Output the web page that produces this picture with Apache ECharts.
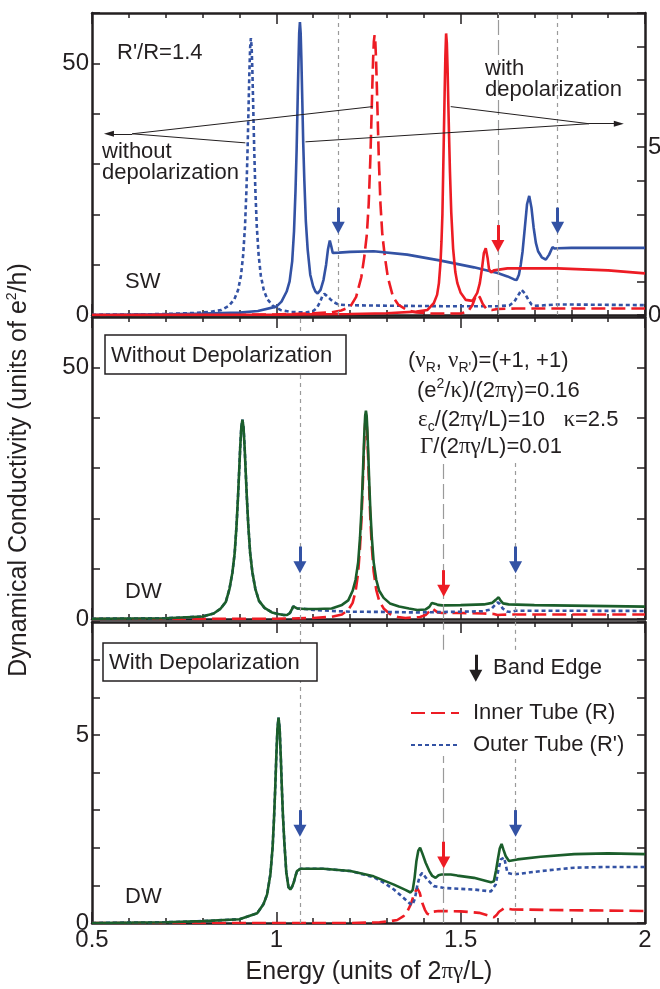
<!DOCTYPE html>
<html>
<head>
<meta charset="utf-8">
<script src="https://cdn.jsdelivr.net/npm/echarts@6/dist/echarts.min.js"></script>
<style>
  html, body { margin: 0; padding: 0; background: #ffffff; }
  #chart { width: 660px; height: 989px; }
</style>
</head>
<body>
<div id="chart"></div>
<script>
// ---------- data: energy in units of 2πγ/L, conductivity in units of e²/h ----------

// Single wall (SW), R'/R = 1.4
const swOuterNoDepol = [[0.5,0.05],[0.6,0.1],[0.7,0.2],[0.78,0.4],[0.82,0.6],[0.851,1.0],[0.871,1.8],[0.886,3.1],[0.896,4.9],[0.904,7.8],[0.91,11.9],[0.915,17.6],[0.919,25],[0.922,32.9],[0.925,42.4],[0.927,48.6],[0.929,53.2],[0.931,55],[0.933,53.2],[0.935,48.6],[0.937,42.4],[0.94,32.9],[0.943,25],[0.947,17.6],[0.952,11.9],[0.958,7.8],[0.966,4.9],[0.976,3.1],[0.991,1.8],[1.011,1.0],[1.04,0.6],[1.08,0.5],[1.1,0.8],[1.11,1.4],[1.118,2.5],[1.125,3.8],[1.13,4.2],[1.137,3.8],[1.147,3.1],[1.157,2.5],[1.168,2.1],[1.19,1.95],[1.3,1.85],[1.45,1.75],[1.6,1.75],[1.632,1.9],[1.645,2.6],[1.656,3.9],[1.665,5.0],[1.674,4.3],[1.683,3.1],[1.692,2.1],[1.7,1.8],[1.72,1.9],[1.76,2.1],[1.85,2.05],[2.0,1.95]];
const swInnerNoDepol = [[0.5,0],[0.9,0.05],[1.0,0.1],[1.1,0.35],[1.15,0.55],[1.176,0.9],[1.2,1.6],[1.2165,3.6],[1.2305,7.5],[1.2385,11.5],[1.2455,16],[1.2505,22],[1.255,31],[1.2575,37.6],[1.2605,45.8],[1.2625,50.8],[1.2645,54.3],[1.2665,55.6],[1.2685,54.3],[1.2705,50.8],[1.2725,45.8],[1.2755,37.6],[1.278,31],[1.2825,22],[1.2875,16],[1.2945,11.5],[1.3025,7.5],[1.3165,3.6],[1.3315,2.0],[1.3565,0.9],[1.38,0.5],[1.42,0.3],[1.5,0.3],[1.52,0.7],[1.532,2.0],[1.54,3.6],[1.546,4.1],[1.552,3.5],[1.56,2.2],[1.57,1.2],[1.585,1.0],[1.6,1.2],[1.65,1.3],[1.8,1.3],[2.0,1.3]];
const swOuterDepol = [[0.5,0],[0.7,0.02],[0.8,0.04],[0.9,0.07],[0.95,0.12],[1.0,0.25],[1.014,0.4],[1.028,0.7],[1.036,1.0],[1.043,1.6],[1.048,2.5],[1.052,3.7],[1.055,4.9],[1.058,6.5],[1.06,7.5],[1.062,8.4],[1.064,8.73],[1.066,8.4],[1.068,7.6],[1.07,6.6],[1.073,5.1],[1.076,4.0],[1.08,2.8],[1.085,1.95],[1.092,1.2],[1.1,0.85],[1.106,0.7],[1.112,0.64],[1.12,0.75],[1.128,1.05],[1.135,1.5],[1.14,1.95],[1.145,2.22],[1.149,2.05],[1.153,1.85],[1.158,1.8],[1.17,1.86],[1.2,1.88],[1.264,1.9],[1.355,1.8],[1.446,1.62],[1.536,1.42],[1.6,1.25],[1.627,1.15],[1.645,1.06],[1.652,1.04],[1.658,1.2],[1.663,1.5],[1.668,1.9],[1.674,2.6],[1.68,3.3],[1.686,3.55],[1.692,3.2],[1.698,2.6],[1.704,2.15],[1.71,1.9],[1.72,1.72],[1.731,1.65],[1.74,1.8],[1.749,2.02],[1.755,1.98],[1.763,1.99],[1.8,2.0],[1.9,2.0],[2.0,2.0]];
const swInnerDepol = [[0.5,0],[1.0,0.01],[1.2,0.03],[1.3,0.05],[1.38,0.1],[1.41,0.15],[1.427,0.35],[1.436,0.6],[1.441,0.95],[1.4455,1.6],[1.448,2.2],[1.4505,3.0],[1.4525,4.2],[1.4545,5.4],[1.4565,6.6],[1.4585,7.7],[1.4605,8.39],[1.4625,8.1],[1.4645,7.34],[1.4665,6.3],[1.4685,5.35],[1.471,4.25],[1.4745,3.05],[1.4795,1.98],[1.4855,1.28],[1.491,0.95],[1.5,0.66],[1.514,0.45],[1.532,0.42],[1.545,0.66],[1.552,0.95],[1.558,1.4],[1.563,1.85],[1.568,1.99],[1.573,1.7],[1.577,1.36],[1.583,1.27],[1.59,1.33],[1.595,1.36],[1.627,1.39],[1.763,1.39],[1.9,1.33],[2.0,1.24]];

// Double wall (DW), without depolarization
const dwNoDepolTotal = [[0.5,0.05],[0.7,0.15],[0.8,0.5],[0.83,1.1],[0.848,2.0],[0.863,3.4],[0.873,6.0],[0.881,9.3],[0.887,13.1],[0.892,18.5],[0.896,24.2],[0.899,29.1],[0.902,34.1],[0.905,38.1],[0.908,39.6],[0.911,38.1],[0.914,34.1],[0.917,29.1],[0.92,24.2],[0.924,18.5],[0.929,13.1],[0.935,9.3],[0.943,6.0],[0.953,3.6],[0.968,2.2],[0.988,1.3],[1.005,1.0],[1.02,0.8],[1.029,0.8],[1.037,1.2],[1.042,1.9],[1.046,2.5],[1.05,2.3],[1.056,2.1],[1.08,2.0],[1.11,2.0],[1.15,2.1],[1.178,2.8],[1.195,3.7],[1.207,5.6],[1.215,7.8],[1.222,11.3],[1.227,16.2],[1.231,21.7],[1.234,27.2],[1.237,33.5],[1.239,37.5],[1.241,40.4],[1.243,41.4],[1.245,40.4],[1.247,37.5],[1.249,33.5],[1.252,27.2],[1.255,21.7],[1.259,16.2],[1.264,11.3],[1.271,7.8],[1.279,5.6],[1.291,4.2],[1.308,3.1],[1.333,2.5],[1.36,2.1],[1.382,1.8],[1.405,1.9],[1.415,2.4],[1.422,3.2],[1.427,3.5],[1.432,3.0],[1.438,2.8],[1.45,2.7],[1.5,2.75],[1.563,2.9],[1.585,3.2],[1.595,3.8],[1.603,4.3],[1.609,3.6],[1.615,3.1],[1.63,2.9],[1.7,2.75],[1.8,2.65],[2.0,2.45]];
const dwNoDepolInner = [[0.5,0],[0.9,0.02],[1.0,0.05],[1.1,0.2],[1.15,0.45],[1.178,0.9],[1.195,1.8],[1.207,3.2],[1.215,5.5],[1.222,9.2],[1.227,14.3],[1.231,19.9],[1.234,25.6],[1.237,32],[1.239,36],[1.241,38.9],[1.243,39.9],[1.245,38.9],[1.247,36],[1.249,32],[1.252,25.6],[1.255,19.9],[1.259,14.3],[1.264,9.4],[1.271,5.8],[1.279,3.6],[1.291,2.1],[1.308,1.0],[1.33,0.4],[1.35,0.2],[1.39,0.4],[1.405,0.8],[1.415,1.5],[1.423,2.1],[1.43,1.7],[1.438,1.3],[1.45,1.2],[1.5,1.2],[1.56,1.1],[1.59,1.0],[1.6,0.8],[1.61,0.85],[1.65,0.9],[1.8,0.9],[2.0,0.9]];
const dwNoDepolOuter = [[0.5,0.05],[0.7,0.15],[0.8,0.5],[0.83,1.1],[0.848,2.0],[0.863,3.4],[0.873,6.0],[0.881,9.3],[0.887,13.1],[0.892,18.5],[0.896,24.2],[0.899,29.1],[0.902,34.1],[0.905,38.1],[0.908,39.6],[0.911,38.1],[0.914,34.1],[0.917,29.1],[0.92,24.2],[0.924,18.5],[0.929,13.1],[0.935,9.3],[0.943,6.0],[0.953,3.6],[0.968,2.2],[0.988,1.3],[1.005,1.0],[1.02,0.8],[1.029,0.8],[1.037,1.2],[1.042,1.9],[1.046,2.5],[1.05,2.3],[1.056,2.1],[1.08,2.0],[1.101,1.8],[1.15,1.6],[1.2,1.45],[1.3,1.4],[1.38,1.3],[1.42,1.35],[1.5,1.45],[1.56,1.55],[1.582,1.9],[1.592,2.7],[1.6,3.3],[1.606,3.0],[1.614,2.1],[1.625,1.5],[1.636,1.4],[1.65,1.65],[1.7,1.65],[2.0,1.6]];

// Double wall (DW), with depolarization
const dwDepolTotal = [[0.5,0],[0.7,0.02],[0.8,0.05],[0.9,0.1],[0.948,0.26],[0.965,0.5],[0.975,0.76],[0.984,1.3],[0.99,2.03],[0.994,2.84],[0.997,3.59],[1.0,4.44],[1.003,5.17],[1.006,5.46],[1.009,5.17],[1.012,4.44],[1.015,3.59],[1.018,2.84],[1.022,2.1],[1.027,1.35],[1.033,0.95],[1.038,0.89],[1.043,0.97],[1.047,1.07],[1.052,1.25],[1.056,1.38],[1.065,1.44],[1.128,1.44],[1.201,1.38],[1.264,1.24],[1.319,1.02],[1.35,0.88],[1.364,0.81],[1.37,0.88],[1.375,1.2],[1.38,1.65],[1.385,1.92],[1.39,2.0],[1.396,1.85],[1.405,1.6],[1.415,1.38],[1.423,1.25],[1.432,1.2],[1.44,1.27],[1.448,1.29],[1.473,1.29],[1.491,1.26],[1.536,1.2],[1.582,1.08],[1.59,1.11],[1.596,1.4],[1.601,1.7],[1.606,1.98],[1.611,2.1],[1.616,1.95],[1.622,1.78],[1.631,1.65],[1.654,1.69],[1.717,1.76],[1.808,1.83],[1.899,1.85],[2.0,1.83]];
const dwDepolInner = [[0.5,0],[1.2,0.0],[1.28,0.02],[1.31,0.05],[1.328,0.08],[1.345,0.18],[1.355,0.3],[1.365,0.5],[1.373,0.75],[1.382,0.93],[1.389,0.8],[1.396,0.53],[1.403,0.35],[1.409,0.25],[1.415,0.22],[1.425,0.3],[1.44,0.32],[1.5,0.31],[1.55,0.27],[1.575,0.2],[1.59,0.15],[1.598,0.22],[1.604,0.3],[1.618,0.39],[1.64,0.36],[1.8,0.34],[2.0,0.32]];
const dwDepolOuter = [[0.5,0],[0.7,0.02],[0.8,0.05],[0.9,0.1],[0.948,0.26],[0.965,0.5],[0.975,0.76],[0.984,1.3],[0.99,2.03],[0.994,2.84],[0.997,3.59],[1.0,4.44],[1.003,5.17],[1.006,5.46],[1.009,5.17],[1.012,4.44],[1.015,3.59],[1.018,2.84],[1.022,2.1],[1.027,1.35],[1.033,0.95],[1.038,0.89],[1.043,0.97],[1.047,1.07],[1.052,1.25],[1.056,1.38],[1.065,1.44],[1.128,1.44],[1.201,1.38],[1.24,1.28],[1.264,1.22],[1.292,1.07],[1.319,0.89],[1.346,0.66],[1.362,0.52],[1.369,0.48],[1.376,0.65],[1.382,0.98],[1.389,1.25],[1.396,1.33],[1.409,1.16],[1.427,0.98],[1.455,0.93],[1.536,0.89],[1.582,0.84],[1.595,1.02],[1.602,1.4],[1.609,1.69],[1.618,1.74],[1.627,1.33],[1.644,1.29],[1.717,1.38],[1.808,1.47],[1.899,1.49],[2.0,1.49]];

// band edges (energy) and which tube they belong to
const swBandEdges = [{ energy: 1.168, tube: 'outer' }, { energy: 1.601, tube: 'inner' }, { energy: 1.763, tube: 'outer' }];
const dwBandEdges = [{ energy: 1.064, tube: 'outer' }, { energy: 1.454, tube: 'inner' }, { energy: 1.649, tube: 'outer' }];

// tick labels
const energyTickLabels = [0.5, 1, 1.5, 2];
const largeScaleLabels = [0, 50];
const smallScaleLabels = [0, 5];

// ---------- styling ----------
const INK = '#231f20';
const BLUE = '#3352a4';
const RED = '#ed1c24';
const GREEN = '#1b5e2b';
const GUIDE = '#9a9a9a';
const FONT = "'Liberation Sans', Arial, Helvetica, sans-serif";
const SERIF = "'Liberation Serif', 'Times New Roman', serif";
const LW = 2.6;
const DASHED = [14, 6];
const DOTTED = [4, 3];
const SHORT_GUIDE = [4, 4];
const LONG_GUIDE = [15, 5];

const tubeGuide = t => (t === 'inner' ? LONG_GUIDE : SHORT_GUIDE);

const grids = [
  { left: 92, right: 15, top: 13, height: 302, outerBoundsMode: 'none' },
  { left: 92, right: 15, top: 317, height: 302, outerBoundsMode: 'none' },
  { left: 92, right: 15, top: 622, height: 301, outerBoundsMode: 'none' }
];

function labelFilter(list) {
  return v => (list.some(l => Math.abs(l - v) < 1e-9) ? String(v) : '');
}

function xAxisFor(gi, position, showLabels) {
  return {
    type: 'value', gridIndex: gi, position, min: 0.5, max: 2, interval: 0.5,
    axisLine: { show: true, onZero: false, lineStyle: { color: INK, width: 2.5 } },
    axisTick: { show: true, inside: true, length: 11, lineStyle: { color: INK, width: 1.5 } },
    minorTick: { show: true, splitNumber: 5, length: 5, lineStyle: { color: INK, width: 1.5 } },
    splitLine: { show: false }, minorSplitLine: { show: false },
    axisLabel: {
      show: showLabels, margin: 5, color: INK, fontSize: 24, fontFamily: FONT,
      formatter: labelFilter(energyTickLabels)
    }
  };
}

function yAxisFor(gi, position, max, interval, labels, showLabels) {
  return {
    type: 'value', gridIndex: gi, position, min: 0, max, interval,
    axisLine: { show: true, onZero: false, lineStyle: { color: INK, width: 2.5 } },
    axisTick: { show: true, inside: true, length: 8, lineStyle: { color: INK, width: 1.5 } },
    splitLine: { show: false },
    axisLabel: {
      show: showLabels, margin: 3, color: INK, fontSize: 24, fontFamily: FONT,
      formatter: labelFilter(labels)
    }
  };
}

const xAxes = [
  xAxisFor(0, 'bottom', false), xAxisFor(0, 'top', false),
  xAxisFor(1, 'bottom', false), xAxisFor(1, 'top', false),
  xAxisFor(2, 'bottom', true), xAxisFor(2, 'top', false)
];
const yAxes = [
  yAxisFor(0, 'left', 60, 10, largeScaleLabels, true),
  yAxisFor(0, 'right', 9, 1, smallScaleLabels, true),
  yAxisFor(1, 'left', 60, 10, largeScaleLabels, true),
  yAxisFor(1, 'right', 60, 10, largeScaleLabels, false),
  yAxisFor(2, 'left', 8, 1, smallScaleLabels, true),
  yAxisFor(2, 'right', 8, 1, smallScaleLabels, false)
];

// ---------- annotation helpers ----------
function guide(e, y0, y1, dash) {
  return [
    { coord: [e, y0], symbol: 'none', lineStyle: { color: GUIDE, width: 1.2, type: dash } },
    { coord: [e, y1], symbol: 'none', lineStyle: { color: GUIDE, width: 1.2, type: dash } }
  ];
}
function downArrow(e, yTop, yEnd, color) {
  return [
    { coord: [e, yTop], symbol: 'none', lineStyle: { color, width: 3, type: 'solid' } },
    { coord: [e, yEnd], symbol: 'triangle', symbolSize: [13, 12], itemStyle: { color }, lineStyle: { color, width: 3, type: 'solid' } }
  ];
}
function pointer(from, to, head) {
  return [
    { coord: from, symbol: 'none', lineStyle: { color: INK, width: 1, type: 'solid' } },
    { coord: to, symbol: head ? 'triangle' : 'none', symbolSize: [6, 10], itemStyle: { color: INK }, lineStyle: { color: INK, width: 1, type: 'solid' } }
  ];
}
function markLines(items) {
  return { silent: true, animation: false, label: { show: false }, emphasis: { disabled: true }, symbol: 'none', data: items };
}

// guide lines and band-edge arrows
const swGuides = swBandEdges.map(b => guide(b.energy, 0, 60, tubeGuide(b.tube)));
const swArrows = swBandEdges.map(b => b.tube === 'inner'
  ? downArrow(b.energy, 2.68, 2.06, RED)
  : downArrow(b.energy, 3.2, 2.6, BLUE));

const dwNoDepolGuides = dwBandEdges.map(b => b.tube === 'outer' && b.energy < 1.2
  ? guide(b.energy, 0, 60, tubeGuide(b.tube))
  : guide(b.energy, 0, 31.6, tubeGuide(b.tube)));
const dwNoDepolArrows = dwBandEdges.map(b => b.tube === 'inner'
  ? downArrow(b.energy, 9.7, 5.6, RED)
  : downArrow(b.energy, 14.4, 10.3, BLUE));

const dwDepolGuides = [];
dwBandEdges.forEach(b => {
  if (b.energy < 1.2) {
    dwDepolGuides.push(guide(b.energy, 0, 8, tubeGuide(b.tube)));
  } else {
    dwDepolGuides.push(guide(b.energy, 0, 4.44, tubeGuide(b.tube)));
    dwDepolGuides.push(guide(b.energy, 7.26, 8, tubeGuide(b.tube)));
  }
});
const dwDepolArrows = dwBandEdges.map(b => b.tube === 'inner'
  ? downArrow(b.energy, 2.16, 1.61, RED)
  : downArrow(b.energy, 3.0, 2.45, BLUE));
// black "Band Edge" key arrow
dwDepolArrows.push(downArrow(1.541, 7.13, 6.57, INK));

// pointers from the labels to the peaks (top panel, left-axis coordinates)
const swPointers = [
  pointer([0.609, 36.0], [0.546, 36.0], true),
  pointer([0.609, 36.0], [1.261, 41.4], false),
  pointer([0.609, 36.0], [0.916, 34.2], false),
  pointer([1.848, 38.0], [1.929, 38.0], true),
  pointer([1.848, 38.0], [1.473, 41.4], false),
  pointer([1.848, 38.0], [1.079, 34.4], false)
];

// ---------- series ----------
function curve(name, data, xi, yi, color, dash, extra) {
  return Object.assign({
    name, type: 'line', data, xAxisIndex: xi, yAxisIndex: yi,
    symbol: 'none', showSymbol: false, smooth: false, animation: false, silent: true,
    lineStyle: { color, width: LW, type: dash },
    itemStyle: { color }
  }, extra || {});
}

const series = [
  // SW panel
  curve('SW outer, without depolarization', swOuterNoDepol, 0, 0, BLUE, DOTTED, { markLine: markLines(swGuides) }),
  curve('SW inner, without depolarization', swInnerNoDepol, 0, 0, RED, DASHED, { markLine: markLines(swPointers) }),
  curve('SW outer, with depolarization', swOuterDepol, 0, 1, BLUE, 'solid', { markLine: markLines(swArrows) }),
  curve('SW inner, with depolarization', swInnerDepol, 0, 1, RED, 'solid'),
  // DW without depolarization
  curve('DW inner, without depolarization', dwNoDepolInner, 2, 2, RED, DASHED, { markLine: markLines(dwNoDepolGuides.concat(dwNoDepolArrows)) }),
  curve('DW outer, without depolarization', dwNoDepolOuter, 2, 2, BLUE, DOTTED),
  curve('DW total, without depolarization', dwNoDepolTotal, 2, 2, GREEN, 'solid'),
  // DW with depolarization
  curve('Inner Tube (R)', dwDepolInner, 4, 4, RED, DASHED, { markLine: markLines(dwDepolGuides.concat(dwDepolArrows)) }),
  curve("Outer Tube (R')", dwDepolOuter, 4, 4, BLUE, DOTTED),
  curve('DW total, with depolarization', dwDepolTotal, 4, 4, GREEN, 'solid')
];

// ---------- text ----------
const rich = {
  g: { fontFamily: SERIF, fontSize: 23, lineHeight: 28, fill: INK },
  sub: { fontFamily: FONT, fontSize: 14, verticalAlign: 'bottom', fill: INK },
  sup: { fontFamily: FONT, fontSize: 14, verticalAlign: 'top', fill: INK }
};
function label(x, y, text, opts) {
  return Object.assign({
    type: 'text', x, y, z: 100, silent: true,
    style: Object.assign({
      text, rich, fontFamily: FONT, fontSize: 22, fill: INK, lineHeight: 28,
      align: 'left', verticalAlign: 'middle'
    }, (opts && opts.style) || {})
  }, (opts && opts.el) || {});
}
function boxed(x, y, w, h, text) {
  return {
    type: 'group', z: 100, silent: true,
    children: [
      { type: 'rect', z: 100, shape: { x, y, width: w, height: h }, style: { fill: '#ffffff', stroke: INK, lineWidth: 1.5 } },
      label(x + 6, y + h / 2 + 1, text)
    ]
  };
}

const graphics = [
  label(117, 53, "R'/R=1.4"),
  label(102, 152, 'without'),
  label(102, 173, 'depolarization'),
  label(485, 69, 'with'),
  label(485, 90, 'depolarization'),
  label(125, 282, 'SW'),
  label(125, 592, 'DW'),
  label(125, 897, 'DW'),
  boxed(105, 335, 241, 39, 'Without Depolarization'),
  boxed(103, 643, 214, 38, 'With Depolarization'),
  label(408, 361, "({g|ν}{sub|R}, {g|ν}{sub|R'})=(+1, +1)"),
  label(417, 391, '(e{sup|2}/{g|κ})/(2{g|πγ})=0.16'),
  label(418, 420, '{g|ε}{sub|c}/(2{g|πγ}/L)=10   {g|κ}=2.5'),
  label(420, 447, '{g|Γ}/(2{g|πγ}/L)=0.01'),
  label(493, 668, 'Band Edge'),
  label(369, 972, 'Energy (units of 2{g|πγ}/L)', { style: { align: 'center', fontSize: 25 } }),
  label(19, 470, 'Dynamical Conductivity (units of e{sup|2}/h)', {
    style: { align: 'center', fontSize: 25 },
    el: { rotation: Math.PI / 2 }
  })
];

const chart = echarts.init(document.getElementById('chart'), null, { renderer: 'canvas' });
chart.setOption({
  animation: false,
  backgroundColor: '#ffffff',
  textStyle: { fontFamily: FONT },
  grid: grids,
  xAxis: xAxes,
  yAxis: yAxes,
  legend: {
    data: ['Inner Tube (R)', "Outer Tube (R')"],
    orient: 'vertical', left: 405, top: 697,
    itemWidth: 48, itemHeight: 14, itemGap: 10,
    selectedMode: false,
    itemStyle: { opacity: 0 },
    textStyle: { fontSize: 22, color: INK, fontFamily: FONT, padding: [0, 0, 0, 9] }
  },
  series,
  graphic: graphics
});
</script>
</body>
</html>
